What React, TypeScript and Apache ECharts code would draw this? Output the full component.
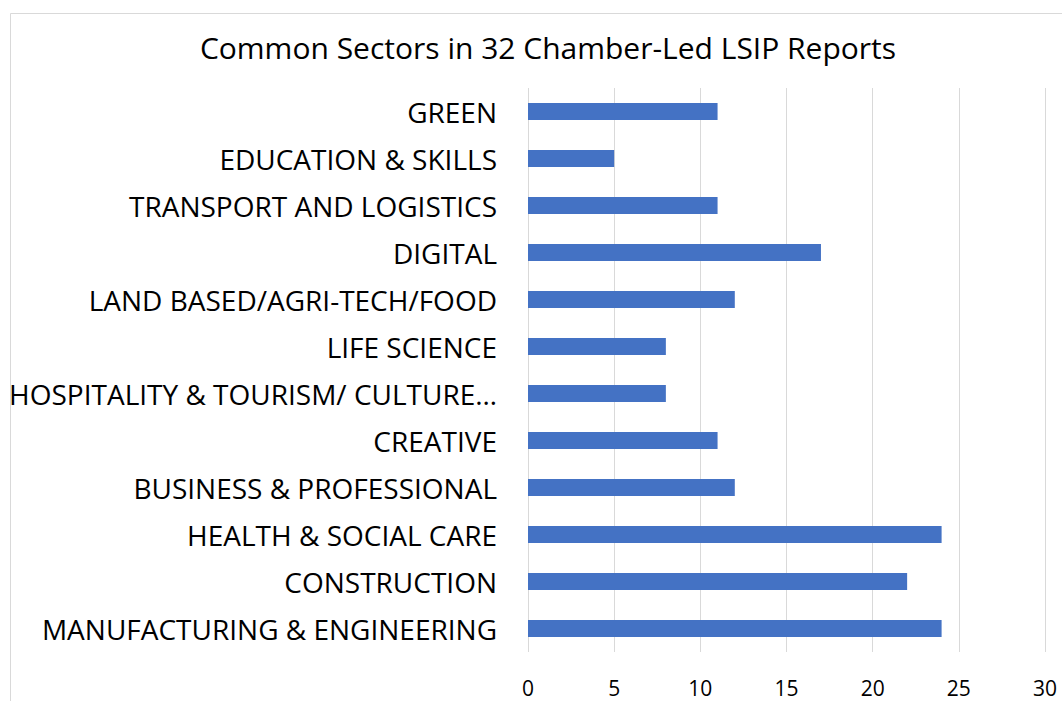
import React, { useEffect, useRef } from "react";
import * as echarts from "echarts";

const titleText = "Common Sectors in 32 Chamber-Led LSIP Reports";
const categories = [
  "MANUFACTURING & ENGINEERING",
  "CONSTRUCTION",
  "HEALTH & SOCIAL CARE",
  "BUSINESS & PROFESSIONAL",
  "CREATIVE",
  "HOSPITALITY & TOURISM/ CULTURE…",
  "LIFE SCIENCE",
  "LAND BASED/AGRI-TECH/FOOD",
  "DIGITAL",
  "TRANSPORT AND LOGISTICS",
  "EDUCATION & SKILLS",
  "GREEN",
];
const values = [24, 22, 24, 12, 11, 8, 8, 12, 17, 11, 5, 11];

const FONT = "'Open Sans', 'Noto Sans', sans-serif";

export default function App() {
  const ref = useRef<HTMLDivElement>(null);
  useEffect(() => {
    if (!ref.current) return;
    const chart = echarts.init(ref.current, undefined, { renderer: "svg" });
    chart.setOption({
      animation: false,
      backgroundColor: "#ffffff",
      title: {
        text: titleText,
        left: 543,
        top: 27,
        textAlign: "center",
        textStyle: { fontFamily: FONT, fontSize: 30, fontWeight: "normal", color: "#000000" },
      },
      graphic: [
        {
          type: "rect",
          shape: { x: 10.5, y: 13.5, width: 1200, height: 900 },
          style: { fill: "none", stroke: "#d9d9d9", lineWidth: 1 },
          silent: true,
        },
      ],
      grid: { left: 528, right: 17, top: 88, bottom: 49 },
      xAxis: {
        type: "value",
        min: 0,
        max: 30,
        interval: 5,
        axisLine: { show: false },
        axisTick: { show: false },
        splitLine: { show: true, lineStyle: { color: "#d9d9d9", width: 1 } },
        axisLabel: { fontFamily: FONT, fontSize: 21, color: "#000000", margin: 25 },
      },
      yAxis: {
        type: "category",
        data: categories,
        axisLine: { show: false },
        axisTick: { show: false },
        axisLabel: { fontFamily: FONT, fontSize: 28, color: "#000000", margin: 31 },
      },
      series: [
        {
          type: "bar",
          data: values,
          barWidth: 17,
          itemStyle: { color: "#4472c4" },
        },
      ],
    });
    return () => chart.dispose();
  }, []);
  return (
    <div
      ref={ref}
      style={{ position: "absolute", left: 0, top: 0, width: 1062, height: 701 }}
    />
  );
}
